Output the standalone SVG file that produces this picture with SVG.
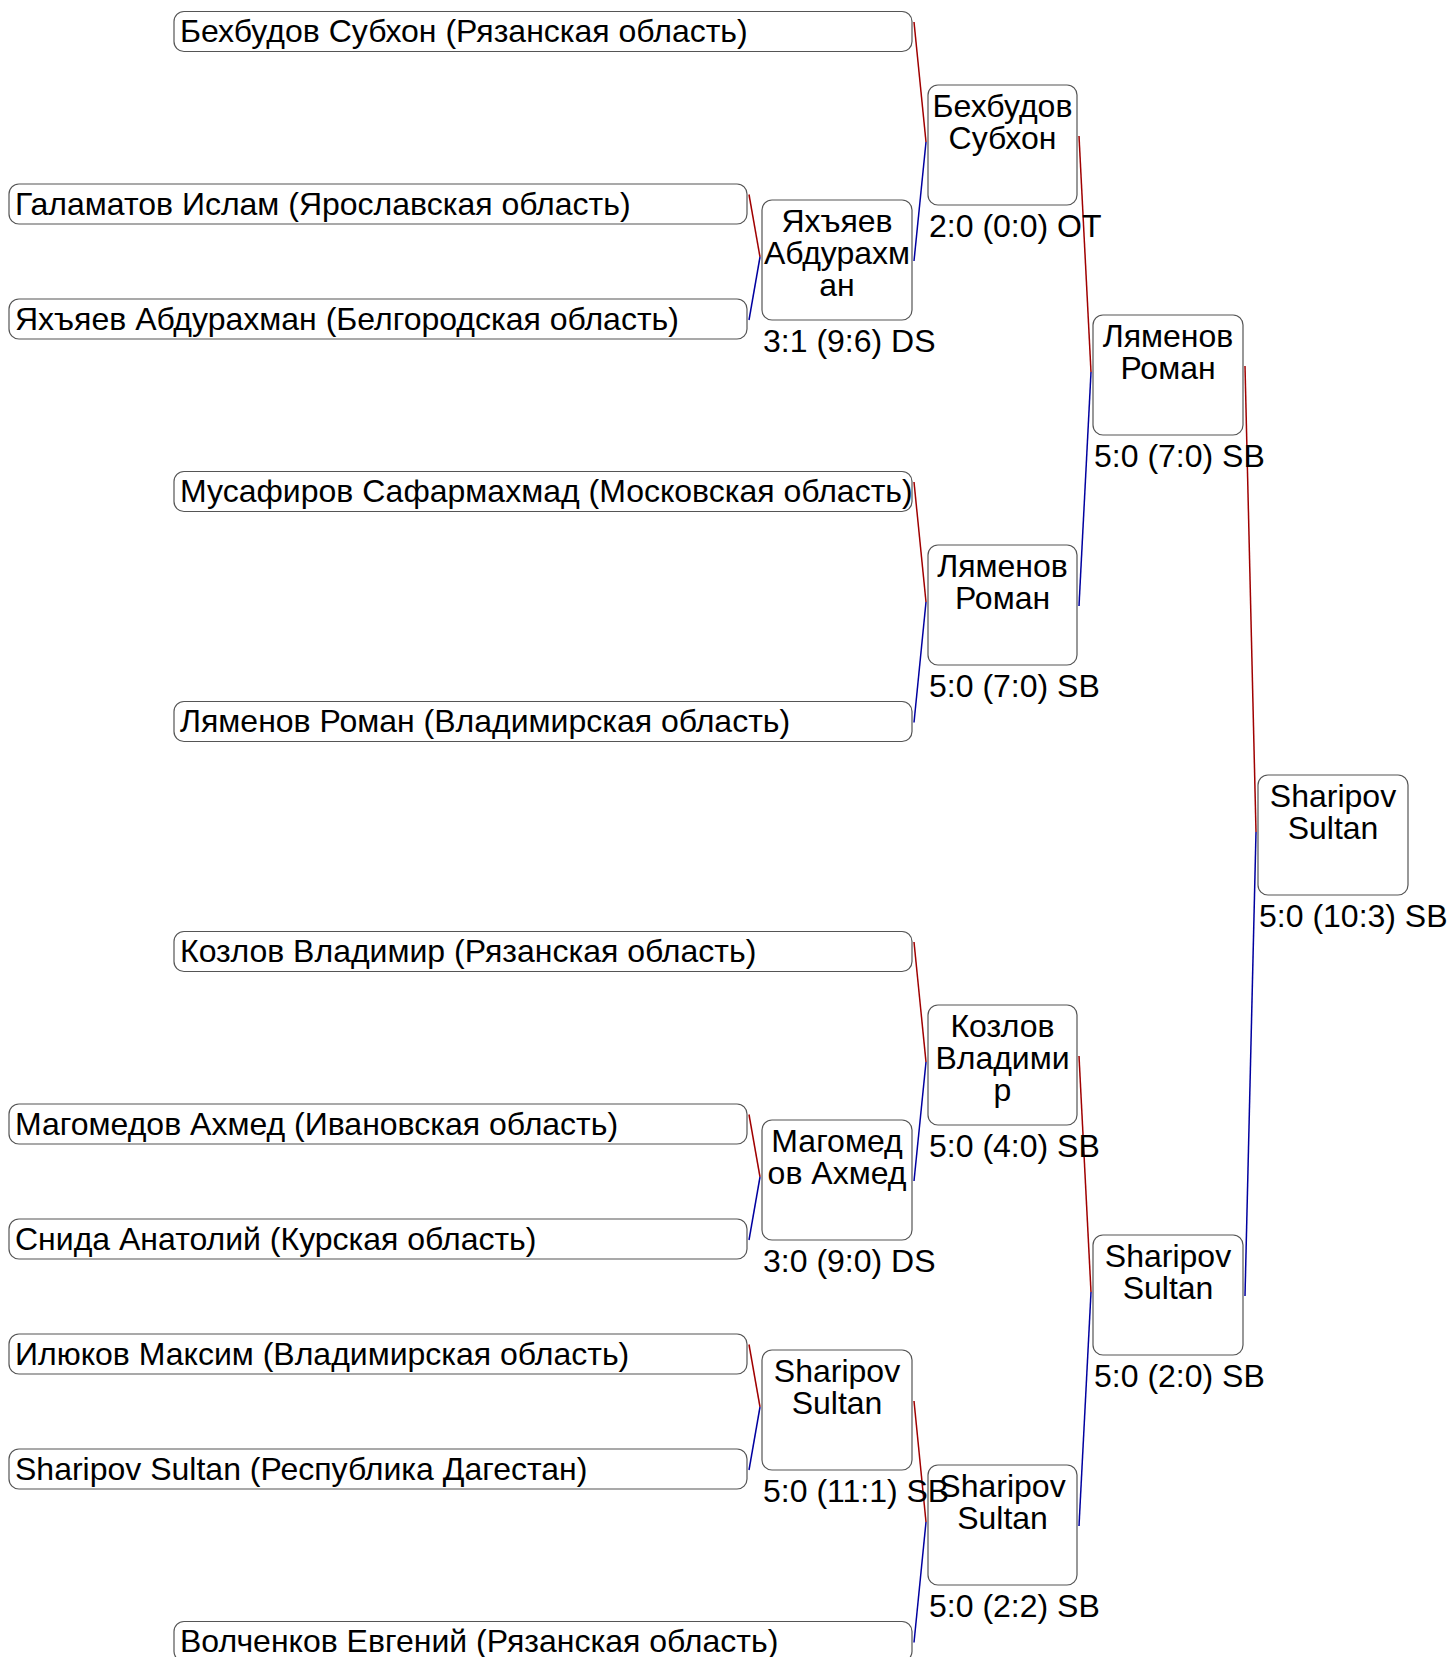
<svg xmlns="http://www.w3.org/2000/svg" width="1450" height="1657" viewBox="0 0 1450 1657">
<style>
.box{fill:none;stroke:#555;stroke-width:1.2}
.t{font-family:"Liberation Sans",Arial,sans-serif;font-size:32px;fill:#000}
.c{text-anchor:middle}
.r{stroke:#a00000;stroke-width:1.5;fill:none}
.b{stroke:#0000a0;stroke-width:1.5;fill:none}
</style>
<rect width="1450" height="1657" fill="#fff"/>
<g id="connectors">
<line class="r" x1="914" y1="22" x2="926" y2="142"/>
<line class="b" x1="914" y1="261" x2="926" y2="142"/>
<line class="r" x1="749" y1="194.5" x2="760" y2="257"/>
<line class="b" x1="749" y1="320" x2="760" y2="257"/>
<line class="r" x1="1079" y1="136" x2="1091" y2="372"/>
<line class="b" x1="1079" y1="606" x2="1091" y2="372"/>
<line class="r" x1="914" y1="482" x2="926" y2="602"/>
<line class="b" x1="914" y1="722.5" x2="926" y2="602"/>
<line class="r" x1="1245" y1="366" x2="1256" y2="832"/>
<line class="b" x1="1245" y1="1296" x2="1256" y2="832"/>
<line class="r" x1="914" y1="942" x2="926" y2="1062"/>
<line class="b" x1="914" y1="1181" x2="926" y2="1062"/>
<line class="r" x1="749" y1="1114.5" x2="760" y2="1177"/>
<line class="b" x1="749" y1="1240" x2="760" y2="1177"/>
<line class="r" x1="749" y1="1344.5" x2="760" y2="1407"/>
<line class="b" x1="749" y1="1470" x2="760" y2="1407"/>
<line class="r" x1="914" y1="1401" x2="926" y2="1522"/>
<line class="b" x1="914" y1="1642.5" x2="926" y2="1522"/>
<line class="r" x1="1079" y1="1056" x2="1091" y2="1292"/>
<line class="b" x1="1079" y1="1526" x2="1091" y2="1292"/>
</g>
<g id="leaf-behbudov"><rect class="box" x="174" y="11.5" width="738" height="40" rx="10"/><text class="t" x="180" y="42">Бехбудов Субхон (Рязанская область)</text></g>
<g id="leaf-galamatov"><rect class="box" x="9" y="184" width="738" height="40" rx="10"/><text class="t" x="15" y="214.5">Галаматов Ислам (Ярославская область)</text></g>
<g id="leaf-yahyaev"><rect class="box" x="9" y="299" width="738" height="40" rx="10"/><text class="t" x="15" y="329.5">Яхъяев Абдурахман (Белгородская область)</text></g>
<g id="leaf-musafirov"><rect class="box" x="174" y="471.5" width="738" height="40" rx="10"/><text class="t" x="180" y="502">Мусафиров Сафармахмад (Московская область)</text></g>
<g id="leaf-lyamenov"><rect class="box" x="174" y="701.5" width="738" height="40" rx="10"/><text class="t" x="180" y="732">Ляменов Роман (Владимирская область)</text></g>
<g id="leaf-kozlov"><rect class="box" x="174" y="931.5" width="738" height="40" rx="10"/><text class="t" x="180" y="962">Козлов Владимир (Рязанская область)</text></g>
<g id="leaf-magomedov"><rect class="box" x="9" y="1104" width="738" height="40" rx="10"/><text class="t" x="15" y="1134.5">Магомедов Ахмед (Ивановская область)</text></g>
<g id="leaf-snida"><rect class="box" x="9" y="1219" width="738" height="40" rx="10"/><text class="t" x="15" y="1249.5">Снида Анатолий (Курская область)</text></g>
<g id="leaf-ilyukov"><rect class="box" x="9" y="1334" width="738" height="40" rx="10"/><text class="t" x="15" y="1364.5">Илюков Максим (Владимирская область)</text></g>
<g id="leaf-sharipov"><rect class="box" x="9" y="1449" width="738" height="40" rx="10"/><text class="t" x="15" y="1479.5">Sharipov Sultan (Республика Дагестан)</text></g>
<g id="leaf-volchenkov"><rect class="box" x="174" y="1621.5" width="738" height="40" rx="10"/><text class="t" x="180" y="1652">Волченков Евгений (Рязанская область)</text></g>

<g id="r2-yahyaev"><rect class="box" x="762" y="200" width="150" height="120" rx="10"/><text class="t c" x="837" y="232">Яхъяев</text><text class="t c" x="837" y="264">Абдурахм</text><text class="t c" x="837" y="296">ан</text><text class="t" x="763" y="352">3:1 (9:6) DS</text></g>
<g id="r2-magomedov"><rect class="box" x="762" y="1120" width="150" height="120" rx="10"/><text class="t c" x="837" y="1152">Магомед</text><text class="t c" x="837" y="1184">ов Ахмед</text><text class="t" x="763" y="1272">3:0 (9:0) DS</text></g>
<g id="r2-sharipov"><rect class="box" x="762" y="1350" width="150" height="120" rx="10"/><text class="t c" x="837" y="1382">Sharipov</text><text class="t c" x="837" y="1414">Sultan</text><text class="t" x="763" y="1502">5:0 (11:1) SB</text></g>

<g id="r3-behbudov"><rect class="box" x="928" y="85" width="149" height="120" rx="10"/><text class="t c" x="1002.5" y="117">Бехбудов</text><text class="t c" x="1002.5" y="149">Субхон</text><text class="t" x="929" y="237">2:0 (0:0) OT</text></g>
<g id="r3-lyamenov"><rect class="box" x="928" y="545" width="149" height="120" rx="10"/><text class="t c" x="1002.5" y="577">Ляменов</text><text class="t c" x="1002.5" y="609">Роман</text><text class="t" x="929" y="697">5:0 (7:0) SB</text></g>
<g id="r3-kozlov"><rect class="box" x="928" y="1005" width="149" height="120" rx="10"/><text class="t c" x="1002.5" y="1037">Козлов</text><text class="t c" x="1002.5" y="1069">Владими</text><text class="t c" x="1002.5" y="1101">р</text><text class="t" x="929" y="1157">5:0 (4:0) SB</text></g>
<g id="r3-sharipov"><rect class="box" x="928" y="1465" width="149" height="120" rx="10"/><text class="t c" x="1002.5" y="1497">Sharipov</text><text class="t c" x="1002.5" y="1529">Sultan</text><text class="t" x="929" y="1617">5:0 (2:2) SB</text></g>

<g id="r4-lyamenov"><rect class="box" x="1093" y="315" width="150" height="120" rx="10"/><text class="t c" x="1168" y="347">Ляменов</text><text class="t c" x="1168" y="379">Роман</text><text class="t" x="1094" y="467">5:0 (7:0) SB</text></g>
<g id="r4-sharipov"><rect class="box" x="1093" y="1235" width="150" height="120" rx="10"/><text class="t c" x="1168" y="1267">Sharipov</text><text class="t c" x="1168" y="1299">Sultan</text><text class="t" x="1094" y="1387">5:0 (2:0) SB</text></g>

<g id="r5-sharipov"><rect class="box" x="1258" y="775" width="150" height="120" rx="10"/><text class="t c" x="1333" y="807">Sharipov</text><text class="t c" x="1333" y="839">Sultan</text><text class="t" x="1259" y="927">5:0 (10:3) SB</text></g>
</svg>
